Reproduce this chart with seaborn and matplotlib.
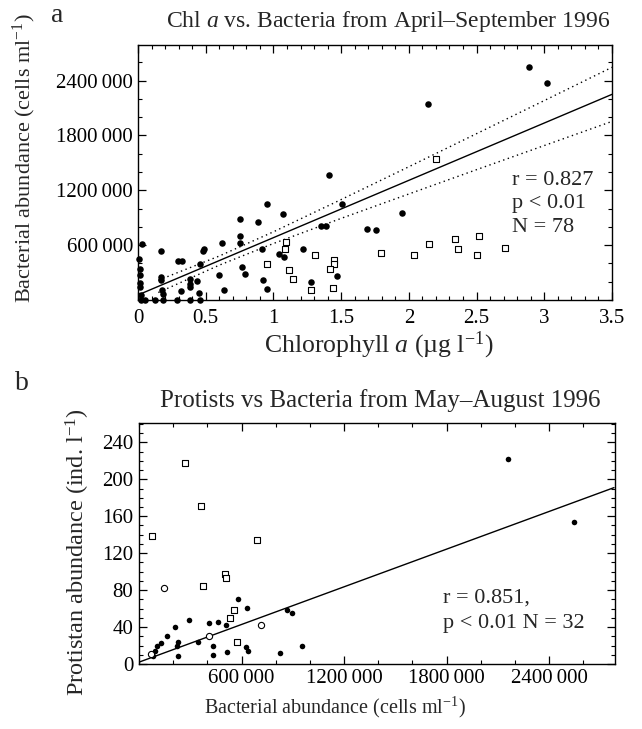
import numpy as np
import pandas as pd
import matplotlib
matplotlib.use("Agg")
import matplotlib.pyplot as plt
import seaborn as sns
from matplotlib.ticker import MultipleLocator, FixedLocator, FixedFormatter

# panel a - chl a (ug/l) vs bacteria (cells/ml)
chl_filled = [1.41, 1.51, 0.95, 1.07, 0.755, 0.885, 0.755, 0.755, 0.617, 0.912,
              0.48, 0.49, 0.457, 0.297, 0.322, 0.167, 0.027, 1.22, 1.35, 1.39,
              1.04, 1.08, 0.77, 0.79, 0.60, 0.92, 0.95, 0.634, 0.433, 0.383,
              0.383, 0.383, 0.32, 0.45, 0.167, 0.167, 0.18, 0.187, 1.47, 1.28,
              0.05, 0.125, 0.187, 0.285, 0.383, 0.457, 0.01, 0.015, 0.015, 0.015,
              0.015, 0.02, 0.02, 1.69, 1.755, 2.886, 3.02, 2.14, 1.95]
bac_filled = [1365000, 1048000, 1055000, 937000, 882000, 856000, 698000, 624000, 621000, 561000,
              536000, 560000, 396000, 422000, 422000, 536000, 617000, 555000, 812000, 812000,
              500000, 470000, 362000, 285000, 278000, 223000, 120000, 113000, 204000, 230000,
              175000, 138000, 100000, 75000, 250000, 215000, 105000, 64000, 267000, 200000,
              0, 0, 0, 0, 0, 0, 450000, 340000, 270000, 190000,
              140000, 50000, 5000, 782000, 765000, 2550000, 2374000, 2146000, 956000]
chl_open = [2.2, 1.797, 2.04, 2.15, 2.34, 2.36, 2.52, 2.5, 2.71, 1.096,
            1.086, 0.95, 1.305, 1.116, 1.145, 1.445, 1.445, 1.42, 1.28, 1.44]
bac_open = [1545000, 514000, 495000, 617000, 665000, 561000, 698000, 488000, 569000, 635000,
            561000, 396000, 488000, 330000, 230000, 433000, 396000, 340000, 113000, 130000]

# regression line and dotted confidence band
fit_a_x = [0.0, 3.5]
fit_a_y = [55000, 2250000]
band_x = [0.15, 0.6, 1.0, 1.5, 2.0, 2.5, 3.0, 3.5]
band_upper = [216000, 481000, 746000, 1099000, 1458000, 1820000, 2182000, 2546000]
band_lower = [82000, 381000, 618000, 893000, 1160000, 1426000, 1690000, 1954000]

# panel b - bacteria (cells/ml) vs protists (ind/l)
bac_b_filled = [581000, 634000, 295000, 211000, 412000, 464000, 509000, 868000, 894000, 166000,
                127000, 230000, 224000, 347000, 431000, 435000, 513000, 626000, 640000, 825000,
                954000, 230000, 94000, 104000, 84000, 2158000, 2548000]
pro_b_filled = [70, 61, 48, 40, 44, 45, 42, 58, 55, 30,
                23, 24, 20, 23.5, 19, 10, 12.6, 18, 14, 11.5,
                20, 9, 14, 20, 9, 221.6, 153.8]
bac_b_square = [269000, 361000, 74000, 689000, 373000, 503000, 509000, 556000, 533000, 575000]
pro_b_square = [218, 171, 139, 134, 85, 98, 93, 59, 50, 23.5]
bac_b_circle = [146000, 712000, 410000, 68000]
pro_b_circle = [82, 42.5, 30, 11]

fit_b_x = [0, 2780000]
fit_b_y = [2, 191]

big_labels = ['600\u2009000', '1200\u2009000', '1800\u2009000', '2400\u2009000']

sns.set_theme(style="ticks")
plt.rcParams['font.family'] = ['Liberation Serif', 'DejaVu Serif']
plt.rcParams['mathtext.fontset'] = 'custom'
plt.rcParams['mathtext.rm'] = 'Liberation Serif'
plt.rcParams['mathtext.it'] = 'Liberation Serif:italic'
plt.rcParams['axes.linewidth'] = 1.0

W, H = 642, 729
fig = plt.figure(figsize=(W / 100, H / 100), dpi=100)
fig.patch.set_facecolor('white')


def box(l, t, r, b):
    return [l / W, 1 - b / H, (r - l) / W, (b - t) / H]


def style_ticks(ax, xpad, ypad):
    ax.tick_params(which='both', direction='in', top=True, right=True, colors='black',
                   labelsize=15)
    ax.tick_params(axis='x', which='both', pad=xpad)
    ax.tick_params(axis='y', which='both', pad=ypad)
    ax.tick_params(which='major', length=6, width=0.9)
    ax.tick_params(which='minor', length=3, width=0.8)
    for s in ax.spines.values():
        s.set_color('black')


# ---- panel a
ax1 = fig.add_axes(box(138, 45, 612, 300))
sns.scatterplot(x=chl_filled, y=bac_filled, ax=ax1, color='black', marker='o', s=22,
                edgecolor='black', linewidth=0, zorder=3, clip_on=False)
sns.scatterplot(x=chl_open, y=bac_open, ax=ax1, marker='s', s=20, facecolor='white',
                edgecolor='black', linewidth=0.8, zorder=3)
sns.lineplot(x=fit_a_x, y=fit_a_y, ax=ax1, color='black', linewidth=1.0)
sns.lineplot(x=band_x, y=band_upper, ax=ax1, color='black', linewidth=1.0, linestyle=(0, (1, 2.5)))
sns.lineplot(x=band_x, y=band_lower, ax=ax1, color='black', linewidth=1.0, linestyle=(0, (1, 2.5)))
ax1.set_xlim(0, 3.5)
ax1.set_ylim(0, 2790000)
ax1.xaxis.set_major_locator(FixedLocator([0, 0.5, 1, 1.5, 2, 2.5, 3, 3.5]))
ax1.xaxis.set_major_formatter(FixedFormatter(['0', '0.5', '1', '1.5', '2', '2.5', '3', '3.5']))
ax1.xaxis.set_minor_locator(MultipleLocator(0.1))
ax1.yaxis.set_major_locator(FixedLocator([600000, 1200000, 1800000, 2400000]))
ax1.yaxis.set_major_formatter(FixedFormatter(big_labels))
ax1.yaxis.set_minor_locator(MultipleLocator(200000))
style_ticks(ax1, 6.5, 3.5)
ax1.text(2.76, 1410000, 'r = 0.827\np < 0.01\nN = 78', fontsize=16, va='top', ha='left',
         linespacing=1.3)

# ---- panel b
ax2 = fig.add_axes(box(139, 423, 615, 664))
sns.scatterplot(x=bac_b_filled, y=pro_b_filled, ax=ax2, color='black', marker='o', s=16,
                edgecolor='black', linewidth=0, zorder=3)
sns.scatterplot(x=bac_b_square, y=pro_b_square, ax=ax2, marker='s', s=18, facecolor='white',
                edgecolor='black', linewidth=0.8, zorder=3)
sns.scatterplot(x=bac_b_circle, y=pro_b_circle, ax=ax2, marker='o', s=20, facecolor='white',
                edgecolor='black', linewidth=0.8, zorder=3)
sns.lineplot(x=fit_b_x, y=fit_b_y, ax=ax2, color='black', linewidth=1.0)
ax2.set_xlim(0, 2786000)
ax2.set_ylim(0, 261)
ax2.xaxis.set_major_locator(FixedLocator([600000, 1200000, 1800000, 2400000]))
ax2.xaxis.set_major_formatter(FixedFormatter(big_labels))
ax2.xaxis.set_minor_locator(MultipleLocator(200000))
ax2.yaxis.set_major_locator(MultipleLocator(40))
ax2.yaxis.set_minor_locator(MultipleLocator(10))
style_ticks(ax2, 3.5, 4)
ax2.text(1780000, 82, 'r = 0.851,\np < 0.01 N = 32', fontsize=16, va='top', ha='left',
         linespacing=1.45)

# titles, labels
fig.text(388 / W, 1 - 21 / H, 'Chl $a$ vs. Bacteria from April\u2013September 1996',
         ha='center', va='center', fontsize=17)
fig.text(380 / W, 1 - 401 / H, 'Protists vs Bacteria from May\u2013August 1996',
         ha='center', va='center', fontsize=18)
fig.text(57 / W, 1 - 16 / H, 'a', ha='center', va='center', fontsize=20)
fig.text(22 / W, 1 - 383 / H, 'b', ha='center', va='center', fontsize=20)
fig.text(24 / W, 1 - 158 / H, 'Bacterial abundance (cells ml$^{-1}$)', rotation=90,
         ha='center', va='center', fontsize=16)
fig.text(78 / W, 1 - 552 / H, 'Protistan abundance (ind. l$^{-1}$)', rotation=90,
         ha='center', va='center', fontsize=17.5)
fig.text(379 / W, 1 - 345 / H, 'Chlorophyll $a$ (\u00b5g l$^{-1}$)', ha='center', va='center',
         fontsize=18.5)
fig.text(335 / W, 1 - 707 / H, 'Bacterial abundance (cells ml$^{-1}$)', ha='center', va='center',
         fontsize=14.5)

fig.savefig('out.png', dpi=100)
